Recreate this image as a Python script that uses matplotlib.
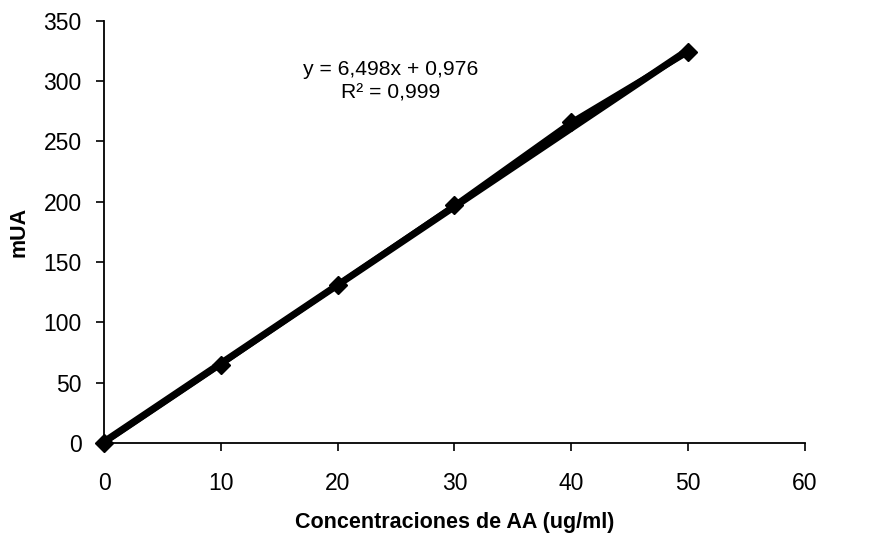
import matplotlib
matplotlib.use("Agg")
import matplotlib.pyplot as plt
import numpy as np

plt.rcParams['font.family'] = ['Liberation Sans', 'DejaVu Sans']

conc = [0, 10, 20, 30, 40, 50]
mua = [0, 65, 131, 197, 266, 324]
slope = 6.498
intercept = 0.976
eq_text = "y = 6,498x + 0,976"
r2_text = "R² = 0,999"
xticks = [0, 10, 20, 30, 40, 50, 60]
yticks = [0, 50, 100, 150, 200, 250, 300, 350]

fig = plt.figure(figsize=(8.74, 5.33), dpi=100)
ax = fig.add_axes([0.119, 0.169, 0.802, 0.792])

xfit = np.array([conc[0], conc[-1]])
ax.plot(xfit, slope * xfit + intercept, color='black', lw=5, solid_capstyle='butt', zorder=2)
ax.plot(conc, mua, color='black', lw=4, marker='D', markersize=9, zorder=3, clip_on=False)

ax.set_xlim(0, 60)
ax.set_ylim(0, 350)
ax.set_xticks(xticks)
ax.set_yticks(yticks)
ax.spines['top'].set_visible(False)
ax.spines['right'].set_visible(False)
for s in ['left', 'bottom']:
    ax.spines[s].set_linewidth(1.3)
ax.tick_params(direction='out', length=6, width=1.2, labelsize=16.5)
ax.tick_params(axis='x', pad=15)
ax.tick_params(axis='y', pad=10)
ax.set_xlabel("Concentraciones de AA (ug/ml)", fontsize=15.5, fontweight='bold', labelpad=12)
ax.set_ylabel("mUA", fontsize=15.5, fontweight='bold', labelpad=10)

ax.text(24.5, 310, eq_text, ha='center', va='center', fontsize=15.2)
ax.text(24.5, 290, r2_text, ha='center', va='center', fontsize=15.2)

fig.savefig("out.png", dpi=100)
